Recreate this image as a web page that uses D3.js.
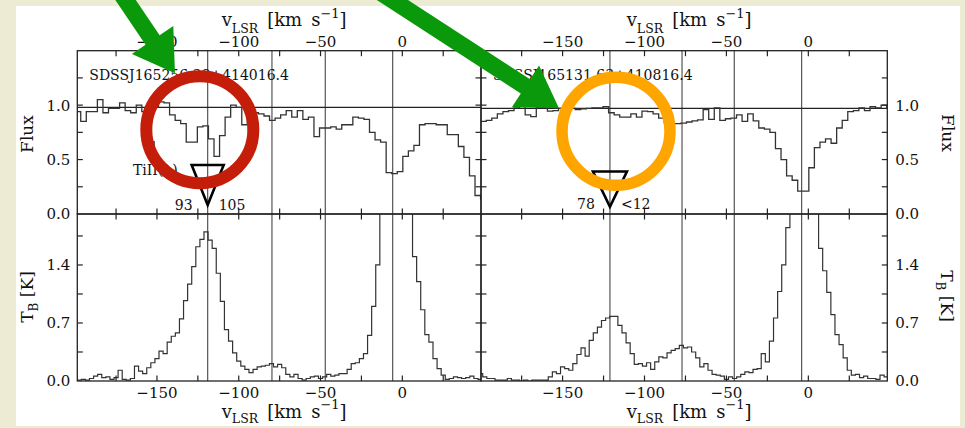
<!DOCTYPE html>
<html>
<head>
<meta charset="utf-8">
<script src="https://cdn.jsdelivr.net/npm/d3@7"></script>
<style>
  body { margin: 0; background: #edebd3; }
  text { font-family: "DejaVu Serif", serif; fill: #111; }
</style>
</head>
<body>
<svg id="fig" width="965" height="428"></svg>
<script>
// ---- data -------------------------------------------------------------
const sightlines = ["SDSSJ165256.38+414016.4", "SDSSJ165131.63+410816.4"];

// normalised absorption spectra (step histogram, regular velocity bins)
const fluxBinStart = -200;     // km/s, left edge of first bin
const fluxBinWidth = 3.395;    // km/s
const fluxLeft = [
  0.94, 0.85, 0.94, 0.94, 1.05, 0.93, 0.97, 0.97, 1.02, 0.95,
  0.93, 1.00, 0.94, 0.97, 0.98, 1.03, 1.02, 0.91, 0.86, 0.83,
  0.66, 0.66, 0.80, 0.81, 0.69, 0.53, 0.72, 0.89, 1.00, 0.98,
  0.82, 0.93, 0.93, 0.92, 0.90, 0.86, 0.88, 0.91, 0.95, 0.89,
  0.95, 0.87, 0.89, 0.71, 0.79, 0.79, 0.80, 0.78, 0.82, 0.82,
  0.89, 0.88, 0.87, 0.75, 0.68, 0.66, 0.38, 0.37, 0.39, 0.53,
  0.58, 0.63, 0.82, 0.83, 0.83, 0.82, 0.82, 0.73, 0.73, 0.62,
  0.52, 0.35, 0.17, 0.14
];
const fluxRight = [
  0.85, 0.86, 0.88, 0.92, 0.94, 0.95, 0.975, 1.01, 0.91, 0.895,
  0.98, 0.98, 0.945, 0.95, 0.97, 0.965, 0.97, 0.96, 0.965, 0.97,
  0.975, 0.975, 0.985, 0.93, 0.91, 0.89, 0.89, 0.92, 0.89, 0.945,
  0.94, 0.92, 0.88, 0.84, 0.83, 0.83, 0.835, 0.845, 0.855, 0.865,
  0.96, 0.87, 0.975, 0.86, 0.875, 0.88, 0.91, 0.85, 0.92, 0.855,
  0.79, 0.78, 0.75, 0.60, 0.50, 0.35, 0.31, 0.21, 0.21, 0.425,
  0.61, 0.66, 0.69, 0.65, 0.79, 0.86, 0.94, 0.95, 0.975, 0.95,
  0.985, 0.975, 1.00, 0.97
];

// 21-cm brightness temperature spectra (channels centred on -200 + 2.5 i)
const tbChanCentre0 = -200;
const tbChanWidth = 2.5;
const tbLeft = [
  0.01, 0.01, 0.02, 0.01, 0.03, 0.06, 0.08, 0.04, 0.05, 0.02,
  0.04, 0.13, 0.02, 0.01, 0.03, 0.18, 0.12, 0.09, 0.16, 0.22,
  0.27, 0.36, 0.33, 0.47, 0.54, 0.58, 0.75, 0.97, 1.17, 1.38,
  1.62, 1.71, 1.80, 1.70, 1.60, 1.30, 0.96, 0.62, 0.48, 0.34,
  0.24, 0.18, 0.14, 0.10, 0.14, 0.17, 0.18, 0.19, 0.21, 0.17,
  0.20, 0.16, 0.08, 0.05, 0.08, 0.03, 0.01, 0.03, 0.05, 0.06,
  0.03, 0.05, 0.08, 0.06, 0.07, 0.09, 0.09, 0.14, 0.21, 0.22,
  0.27, 0.33, 0.55, 0.90, 1.40, 2.40, 3.50, 4.50, 5.00, 5.20,
  5.00, 3.80, 2.10, 1.50, 1.20, 0.86, 0.56, 0.47, 0.27, 0.15,
  0.07, 0.02, 0.03, 0.05, 0.04, 0.03, 0.04, 0.06, 0.03, 0.02
];
const tbRight = [
  0.09, 0.05, 0.03, 0.03, 0.01, 0.01, 0.01, 0.03, 0.01, 0.01,
  0.00, 0.01, 0.00, 0.01, 0.01, 0.01, 0.01, 0.05, 0.11, 0.09,
  0.17, 0.15, 0.13, 0.21, 0.32, 0.40, 0.30, 0.49, 0.58, 0.65,
  0.73, 0.76, 0.78, 0.78, 0.67, 0.58, 0.46, 0.33, 0.20, 0.21,
  0.18, 0.22, 0.14, 0.23, 0.29, 0.28, 0.34, 0.37, 0.39, 0.43,
  0.40, 0.41, 0.35, 0.28, 0.17, 0.21, 0.13, 0.08, 0.07, 0.06,
  0.02, 0.05, 0.03, 0.05, 0.08, 0.11, 0.10, 0.14, 0.15, 0.33,
  0.23, 0.48, 0.76, 1.08, 1.40, 1.85, 2.50, 3.50, 4.50, 5.00,
  5.20, 4.50, 2.80, 1.60, 1.33, 1.07, 0.80, 0.56, 0.44, 0.28,
  0.13, 0.07, 0.08, 0.04, 0.06, 0.03, 0.03, 0.02, 0.07, 0.05
];

const continuumLevel = [0.979, 0.970];
const velocityMarkers = [[-119.0, -79.7, -47.1, -5.9], [-121.1, -77.1, -45.2, -4.1]];
const limitLabels = [["93", "105"], ["78", "<12"]];

const xTickValues = [-175, -150, -125, -100, -75, -50, -25, 0, 25];
const xTickLabels = [-150, -100, -50, 0];
const fluxTickValues = [0, 0.25, 0.5, 0.75, 1.0, 1.25, 1.5];
const fluxTickLabels = ["0.0", "0.5", "1.0"];
const tbTickValues = [0, 0.35, 0.7, 1.05, 1.4, 1.75];
const tbTickLabels = ["0.0", "0.7", "1.4"];

// ---- layout -----------------------------------------------------------
const svg = d3.select("#fig");
svg.append("rect").attr("x", 16).attr("y", 6).attr("width", 944).attr("height", 420).attr("fill", "#fff");

const yTop = 50.7, yMid = 214, yBot = 381;
const yFlux = d3.scaleLinear().domain([0, 1.5]).range([yMid, yTop]);
const yTB = d3.scaleLinear().domain([0, 2.015]).range([yBot, yMid]);

const panels = [
  { x0: 77.3, x1: 481, domain: [-198.7, 48.1], flux: fluxLeft, tb: tbLeft, side: "left",
    tri: { top: 0.45, apex: 0.083, half: 16 }, labelDy: 210 },
  { x0: 481, x1: 887.3, domain: [-199.8, 48.2], flux: fluxRight, tb: tbRight, side: "right",
    tri: { top: 0.39, apex: 0.067, half: 17 }, labelDy: 209 }
];
panels.forEach(p => p.x = d3.scaleLinear().domain(p.domain).range([p.x0, p.x1]));

const defs = svg.append("defs");

function stepPoints(values, edge0, width) {
  const pts = values.map((v, i) => [edge0 + i * width, v]);
  pts.push([edge0 + values.length * width, values[values.length - 1]]);
  return pts;
}

panels.forEach((p, pi) => {
  const g = svg.append("g");
  const x = p.x;

  // clip regions for each sub-panel
  defs.append("clipPath").attr("id", "cTop" + pi)
    .append("rect").attr("x", p.x0).attr("y", yTop).attr("width", p.x1 - p.x0).attr("height", yMid - yTop);
  defs.append("clipPath").attr("id", "cBot" + pi)
    .append("rect").attr("x", p.x0).attr("y", yMid).attr("width", p.x1 - p.x0).attr("height", yBot - yMid);

  // velocity-range markers through both sub-panels
  g.selectAll(".vm").data(velocityMarkers[pi]).join("line")
    .attr("x1", d => x(d)).attr("x2", d => x(d))
    .attr("y1", yTop).attr("y2", yBot)
    .attr("stroke", "#555").attr("stroke-width", 1.2);

  // continuum level
  g.append("line")
    .attr("x1", p.x0).attr("x2", p.x1)
    .attr("y1", yFlux(continuumLevel[pi])).attr("y2", yFlux(continuumLevel[pi]))
    .attr("stroke", "#222").attr("stroke-width", 1.1);

  const fluxLine = d3.line().curve(d3.curveStepAfter).x(d => x(d[0])).y(d => yFlux(d[1]));
  g.append("path")
    .attr("d", fluxLine(stepPoints(p.flux, fluxBinStart, fluxBinWidth)))
    .attr("clip-path", `url(#cTop${pi})`)
    .attr("fill", "none").attr("stroke", "#333").attr("stroke-width", 1.3);

  const tbLine = d3.line().curve(d3.curveStepAfter).x(d => x(d[0])).y(d => yTB(d[1]));
  g.append("path")
    .attr("d", tbLine(stepPoints(p.tb, tbChanCentre0 - tbChanWidth / 2, tbChanWidth)))
    .attr("clip-path", `url(#cBot${pi})`)
    .attr("fill", "none").attr("stroke", "#333").attr("stroke-width", 1.2);

  // frames
  [[yTop, yMid], [yMid, yBot]].forEach(([a, b]) => {
    g.append("rect").attr("x", p.x0).attr("y", a).attr("width", p.x1 - p.x0).attr("height", b - a)
      .attr("fill", "none").attr("stroke", "#222").attr("stroke-width", 1.3);
  });

  // x ticks (inward, on every horizontal frame edge)
  const xt = xTickValues.filter(v => v > p.domain[0] && v < p.domain[1]);
  const tickLen = 5.5;
  [[yTop, 1], [yMid, -1], [yMid, 1], [yBot, -1]].forEach(([yy, dir]) => {
    g.selectAll(null).data(xt).join("line")
      .attr("x1", d => x(d)).attr("x2", d => x(d))
      .attr("y1", yy).attr("y2", yy + dir * tickLen)
      .attr("stroke", "#222").attr("stroke-width", 1.2);
  });
  // y ticks on both vertical edges
  [[p.x0, 1], [p.x1, -1]].forEach(([xx, dir]) => {
    g.selectAll(null).data(fluxTickValues.filter(v => v > 0 && v < 1.5)).join("line")
      .attr("x1", xx).attr("x2", xx + dir * tickLen)
      .attr("y1", d => yFlux(d)).attr("y2", d => yFlux(d))
      .attr("stroke", "#222").attr("stroke-width", 1.2);
    g.selectAll(null).data(tbTickValues.filter(v => v > 0)).join("line")
      .attr("x1", xx).attr("x2", xx + dir * tickLen)
      .attr("y1", d => yTB(d)).attr("y2", d => yTB(d))
      .attr("stroke", "#222").attr("stroke-width", 1.2);
  });

  // x tick labels, top and bottom
  xTickLabels.forEach(v => {
    const s = String(v).replace("-", "\u2212");
    g.append("text").attr("x", x(v)).attr("y", 46.5).attr("text-anchor", "middle").attr("font-size", 15).text(s);
    g.append("text").attr("x", x(v)).attr("y", 397.5).attr("text-anchor", "middle").attr("font-size", 15).text(s);
  });

  // y tick labels on the outer side
  const outerX = p.side === "left" ? p.x0 - 7 : p.x1 + 8;
  const anchor = p.side === "left" ? "end" : "start";
  fluxTickLabels.forEach(t => {
    g.append("text").attr("x", outerX).attr("y", yFlux(+t)).attr("dy", "0.36em")
      .attr("text-anchor", anchor).attr("font-size", 15).text(t);
  });
  tbTickLabels.forEach(t => {
    g.append("text").attr("x", outerX).attr("y", yTB(+t)).attr("dy", "0.36em")
      .attr("text-anchor", anchor).attr("font-size", 15).text(t);
  });

  // axis titles, top and bottom
  const cx = (p.x0 + p.x1) / 2 + 5;
  [[25.5, 7, 8], [418, 5, 9]].forEach(([by, sub, sup]) => {
    const t = g.append("text").attr("x", cx).attr("y", by).attr("text-anchor", "middle").attr("font-size", 18);
    t.append("tspan").text("v");
    t.append("tspan").attr("font-size", 12.5).attr("dy", sub).text("LSR");
    t.append("tspan").attr("dy", -sub).text("\u2002[km\u2002s");
    t.append("tspan").attr("font-size", 13).attr("dy", -sup).text("\u22121");
    t.append("tspan").attr("dy", sup).text("]");
  });

  // sight-line name
  g.append("text").attr("x", p.x0 + 12).attr("y", 80).attr("font-size", 14).text(sightlines[pi]);

  // upper-limit triangle on the first velocity marker
  const vx = x(velocityMarkers[pi][0]);
  const tri = p.tri;
  g.append("path")
    .attr("d", `M${vx - tri.half},${yFlux(tri.top)}L${vx + tri.half},${yFlux(tri.top)}L${vx},${yFlux(tri.apex)}Z`)
    .attr("fill", "none").attr("stroke", "#000").attr("stroke-width", 2.6).attr("stroke-linejoin", "miter");
  g.append("text").attr("x", vx - 15).attr("y", p.labelDy).attr("text-anchor", "end").attr("font-size", 14).text(limitLabels[pi][0]);
  g.append("text").attr("x", vx + 11).attr("y", p.labelDy).attr("text-anchor", "start").attr("font-size", 14).text(limitLabels[pi][1]);
});

// side titles
function yTitle(xp, yp, rot, main, sub, rest) {
  const t = svg.append("text").attr("transform", `translate(${xp},${yp}) rotate(${rot})`)
    .attr("text-anchor", "middle").attr("font-size", 17);
  t.append("tspan").text(main);
  if (sub) {
    t.append("tspan").attr("font-size", 12).attr("dy", 5).text(sub);
    t.append("tspan").attr("dy", -5).text(rest);
  }
}
yTitle(33, 134, -90, "Flux");
yTitle(33, 297, -90, "T", "B", " [K]");
yTitle(942, 133, 90, "Flux");
yTitle(941, 296, 90, "T", "B", " [K]");

// Ti II line marker and label in the left panel
const pl = panels[0];
svg.append("line").attr("x1", pl.x(-151.8)).attr("x2", pl.x(-151.8))
  .attr("y1", yFlux(0.67)).attr("y2", yFlux(0.56)).attr("stroke", "#000").attr("stroke-width", 1.2);
svg.append("text").attr("x", 133).attr("y", 175).attr("font-size", 14).text("TiII(\u03bb)");

// highlight rings
const rings = [
  { panel: 0, v: -123.8, f: 0.775, r: 53.5, w: 12, color: "#c41e0a" },
  { panel: 1, v: -117.4, f: 0.760, r: 54, w: 11.5, color: "#ffa500" }
];
rings.forEach(c => {
  svg.append("circle").attr("cx", panels[c.panel].x(c.v)).attr("cy", yFlux(c.f)).attr("r", c.r)
    .attr("fill", "none").attr("stroke", c.color).attr("stroke-width", c.w);
});

// pointer arrows
const arrows = [
  { panel: 0, v: -139.0, f: 1.293, angle: 56, len: 110 },
  { panel: 1, v: -152.2, f: 0.972, angle: 33, len: 230 }
];
arrows.forEach(a => {
  const tx = panels[a.panel].x(a.v), ty = yFlux(a.f);
  const rad = a.angle * Math.PI / 180;
  const dx = Math.cos(rad), dy = Math.sin(rad);
  const nx = -dy, ny = dx;
  const hl = 40, hw = 25, sw = 8.5;
  const P = (along, perp) => [tx - dx * along + nx * perp, ty - dy * along + ny * perp];
  const pts = [P(a.len, sw), P(hl, sw), P(hl, hw), [tx, ty], P(hl, -hw), P(hl, -sw), P(a.len, -sw)];
  svg.append("polygon").attr("points", pts.map(q => q.join(",")).join(" ")).attr("fill", "#0a990a");
});
</script>
</body>
</html>
